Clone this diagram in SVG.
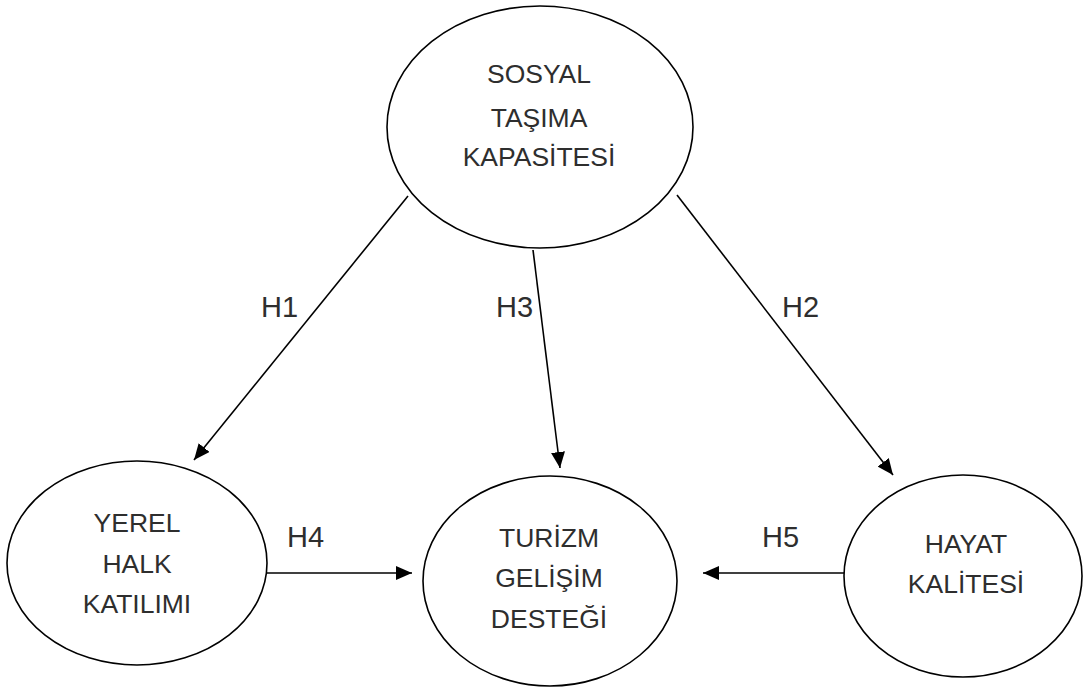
<svg xmlns="http://www.w3.org/2000/svg" width="1083" height="690" viewBox="0 0 1083 690">
<defs>
<marker id="arr" markerWidth="16" markerHeight="14" refX="16" refY="7" orient="auto" markerUnits="userSpaceOnUse">
<path d="M0,0 L16,7 L0,14 Z" fill="#000"/>
</marker>
<style>
.node{fill:#fff;stroke:#000;stroke-width:1.6}
.t{font-family:"Liberation Sans","Open Sans",Arial,sans-serif;font-size:26.5px;fill:#2e2e2e;text-anchor:middle}
.lbl{font-family:"Liberation Sans","Open Sans",Arial,sans-serif;font-size:29px;fill:#2e2e2e}
.c{stroke:#000;stroke-width:1.6;fill:none;marker-end:url(#arr)}
</style>
</defs>
<rect width="1083" height="690" fill="#fff"/>
<g id="n-sosyal">
<ellipse class="node" cx="540" cy="127" rx="153" ry="121"/>
<text class="t" x="539" y="83">SOSYAL</text>
<text class="t" x="539" y="127">TAŞIMA</text>
<text class="t" x="539" y="166">KAPASİTESİ</text>
</g>
<g id="n-yerel">
<ellipse class="node" cx="137" cy="563" rx="130" ry="102"/>
<text class="t" x="137" y="532">YEREL</text>
<text class="t" x="137" y="573">HALK</text>
<text class="t" x="137" y="613">KATILIMI</text>
</g>
<g id="n-turizm">
<ellipse class="node" cx="550" cy="581" rx="127" ry="105"/>
<text class="t" x="549" y="547">TURİZM</text>
<text class="t" x="549" y="587">GELİŞİM</text>
<text class="t" x="549" y="628">DESTEĞİ</text>
</g>
<g id="n-hayat">
<ellipse class="node" cx="963" cy="576" rx="119" ry="101"/>
<text class="t" x="966" y="553">HAYAT</text>
<text class="t" x="966" y="593">KALİTESİ</text>
</g>
<g id="connectors">
<line class="c" x1="408" y1="196" x2="194" y2="460"/>
<line class="c" x1="533" y1="250" x2="560" y2="468"/>
<line class="c" x1="677" y1="195" x2="893" y2="475"/>
<line class="c" x1="267" y1="573" x2="412" y2="573"/>
<line class="c" x1="844" y1="573" x2="703" y2="573"/>
<text class="lbl" x="261" y="317">H1</text>
<text class="lbl" x="496" y="317">H3</text>
<text class="lbl" x="782" y="317">H2</text>
<text class="lbl" x="287" y="547">H4</text>
<text class="lbl" x="762" y="547">H5</text>
</g>
</svg>
